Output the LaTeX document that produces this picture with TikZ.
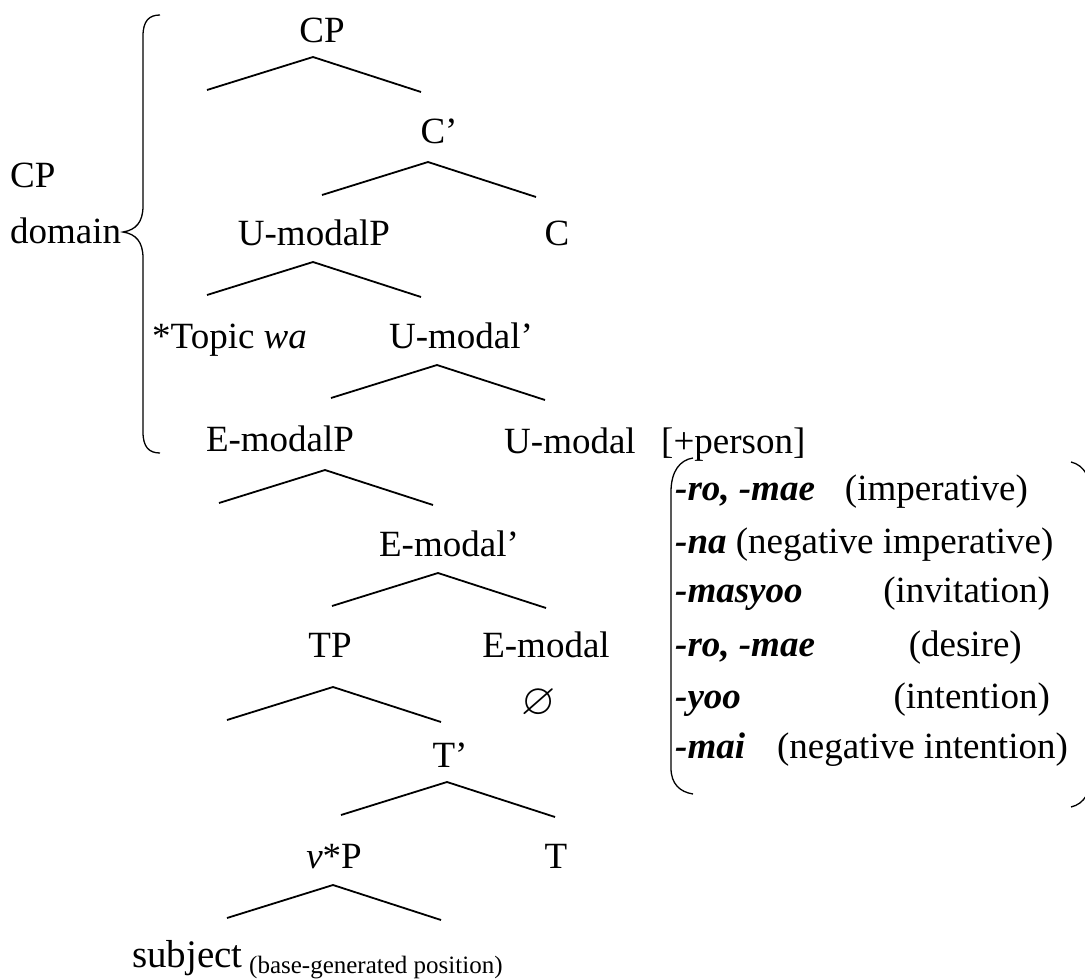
\documentclass[tikz,border=0pt]{standalone}
\usepackage{amssymb}
\usepackage{fontspec}
\setmainfont{Liberation Serif}
\begin{document}
\begin{tikzpicture}[x=1pt,y=-1pt,
  lbl/.style={inner sep=0pt, font=\fontsize{37}{44}\selectfont},
  big/.style={inner sep=0pt, font=\fontsize{39}{46}\selectfont},
  small/.style={inner sep=0pt, font=\fontsize{25}{30}\selectfont},
  branch/.style={line width=1.8pt, line join=miter},
  delim/.style={line width=1.3pt}]
\useasboundingbox (0,0) rectangle (1085,980);

% ---- labels of the tree ----
\node[lbl,anchor=base] (cp) at (322,42) {CP};
\node[lbl,anchor=base] (cbar) at (439,143) {C’};
\node[lbl,anchor=base] (umodp) at (314,245) {U-modalP};
\node[lbl,anchor=base] (c) at (557,245) {C};
\node[lbl,anchor=base west] (topic) at (152,348) {*Topic \textit{wa}};
\node[lbl,anchor=base] (umodbar) at (461,348) {U-modal’};
\node[lbl,anchor=base] (emodp) at (280,451) {E-modalP};
\node[lbl,anchor=base] (umod) at (570,453) {U-modal};
\node[lbl,anchor=base west] (person) at (661,453) {[+person]};
\node[lbl,anchor=base] (emodbar) at (449,556) {E-modal’};
\node[lbl,anchor=base] (tp) at (330,657) {TP};
\node[lbl,anchor=base] (emod) at (546,657) {E-modal};
\node[inner sep=0pt,font=\fontsize{44}{50}\selectfont,anchor=base] (empty) at (539,714) {$\varnothing$};
\node[lbl,anchor=base] (tbar) at (450,767) {T’};
\node[lbl,anchor=base] (vp) at (334,868) {\textit{v}*P};
\node[lbl,anchor=base] (t) at (556,868) {T};
\node[big,anchor=base west] (subj) at (132,967) {subject};
\node[small,anchor=base west] (subjnote) at (249,973) {(base-generated position)};

% ---- CP domain with its brace ----
\node[lbl,anchor=base west] (cpdom) at (10,187) {CP};
\node[lbl,anchor=base west] (dom) at (10,243) {domain};
\coordinate (brTop) at (160,15);
\coordinate (brTip) at (123,232);
\coordinate (brBot) at (160,453);
\draw[delim] (brTop) .. controls (149,15) and (143,21) .. (143,36)
  -- (143,206) .. controls (143,222) and (136,230) .. (brTip)
  .. controls (136,234) and (143,242) .. (143,258)
  -- (143,432) .. controls (143,447) and (149,453) .. (brBot);

% ---- branches: apex, left end, right end ----
\foreach \nm/\ax/\ay in {bCP/313/57, bCbar/428/162, bUmodp/313/262,
    bUmodbar/437/365, bEmodp/325/470, bEmodbar/438/573,
    bTP/333/687, bTbar/447/782, bVP/333/885}{
  \coordinate (\nm) at (\ax,\ay);
  \coordinate (\nm L) at (\ax-106,\ay+33);
  \coordinate (\nm R) at (\ax+108,\ay+35);
  \draw[branch] (\nm L) -- (\nm) -- (\nm R);
}

% ---- list of U-modal forms in parentheses ----
\coordinate (lpTop) at (693,458);
\coordinate (lpBot) at (693,794);
\draw[delim] (lpTop) .. controls (680,460) and (671,471) .. (671,492)
  -- (671,768) .. controls (671,784) and (680,792) .. (lpBot);
\coordinate (rpTop) at (1071,462);
\coordinate (rpBot) at (1071,807);
\begin{scope}
\clip (0,0) rectangle (1085,980);
\draw[delim] (rpTop) .. controls (1084,465) and (1092,478) .. (1092,500)
  -- (1092,770) .. controls (1092,792) and (1084,804) .. (rpBot);
\end{scope}

\node[lbl,anchor=base west] (f1) at (675,500) {\textbf{\textit{-ro, -mae}}};
\node[lbl,anchor=base east] (g1) at (1028,500) {(imperative)};
\node[lbl,anchor=base west] (f2) at (675,553) {\textbf{\textit{-na}} (negative imperative)};
\node[lbl,anchor=base west] (f3) at (675,602) {\textbf{\textit{-masyoo}}};
\node[lbl,anchor=base east] (g3) at (1050,602) {(invitation)};
\node[lbl,anchor=base west] (f4) at (675,656) {\textbf{\textit{-ro, -mae}}};
\node[lbl,anchor=base east] (g4) at (1022,656) {(desire)};
\node[lbl,anchor=base west] (f5) at (675,708) {\textbf{\textit{-yoo}}};
\node[lbl,anchor=base east] (g5) at (1050,708) {(intention)};
\node[lbl,anchor=base west] (f6) at (675,758) {\textbf{\textit{-mai}}};
\node[lbl,anchor=base east] (g6) at (1068,758) {(negative intention)};
\end{tikzpicture}
\end{document}
